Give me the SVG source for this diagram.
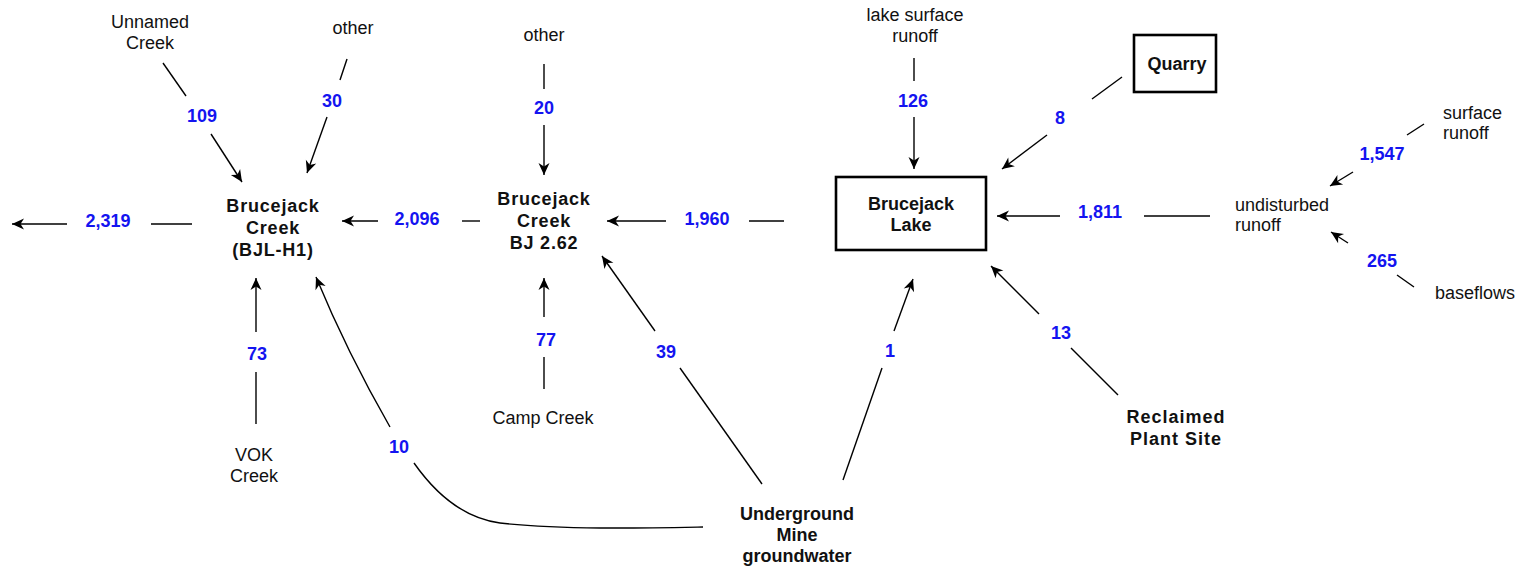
<svg xmlns="http://www.w3.org/2000/svg" width="1526" height="568" viewBox="0 0 1526 568">
<style>
text{font-family:"Liberation Sans",Arial,sans-serif;font-size:18px;fill:#111}
.n{font-weight:bold;fill:#1414f0;text-anchor:middle}
.b{font-weight:bold;text-anchor:middle}
.c{letter-spacing:0.8px}
.r{text-anchor:middle}
.l{text-anchor:start}
.ln{stroke:#000;stroke-width:1.4;fill:none}
.ar{stroke:#000;stroke-width:1.4;fill:none;marker-end:url(#ah)}
.box{fill:#fff;stroke:#000;stroke-width:2.6}
</style>
<defs>
<marker id="ah" viewBox="-13 -6 14 12" refX="0" refY="0" markerWidth="14" markerHeight="12" markerUnits="userSpaceOnUse" orient="auto">
<path d="M0,0 L-12,-5.5 L-8.5,0 L-12,5.5 Z" fill="#000"/>
</marker>
</defs>
<g id="connectors">
<line class="ln" x1="163" y1="63" x2="186" y2="96"/>
<line class="ar" x1="211" y1="134" x2="242" y2="182"/>
<line class="ln" x1="347" y1="59" x2="340" y2="80"/>
<line class="ar" x1="327" y1="117" x2="307" y2="173"/>
<line class="ar" x1="67" y1="224" x2="12" y2="224"/>
<line class="ln" x1="151" y1="224" x2="192" y2="224"/>
<line class="ar" x1="378" y1="221" x2="342" y2="221"/>
<line class="ln" x1="462" y1="221" x2="480" y2="221"/>
<line class="ln" x1="544" y1="64" x2="544" y2="89"/>
<line class="ar" x1="544" y1="125" x2="544" y2="175"/>
<line class="ar" x1="666" y1="221" x2="607" y2="221"/>
<line class="ln" x1="749" y1="221" x2="784" y2="221"/>
<line class="ln" x1="914" y1="58" x2="914" y2="81"/>
<line class="ar" x1="914" y1="117" x2="914" y2="169"/>
<line class="ln" x1="1122" y1="77" x2="1092" y2="99"/>
<line class="ar" x1="1047" y1="135" x2="1002" y2="169"/>
<line class="ar" x1="1060" y1="216" x2="997" y2="216"/>
<line class="ln" x1="1144" y1="216" x2="1210" y2="216"/>
<line class="ln" x1="1424" y1="124" x2="1407" y2="135"/>
<line class="ar" x1="1353" y1="172" x2="1330" y2="186"/>
<line class="ln" x1="1414" y1="287" x2="1397" y2="275"/>
<line class="ar" x1="1348" y1="243" x2="1331" y2="232"/>
<line class="ar" x1="256" y1="332" x2="256" y2="278"/>
<line class="ln" x1="256" y1="372" x2="256" y2="424"/>
<line class="ar" x1="544" y1="317" x2="544" y2="278"/>
<line class="ln" x1="544" y1="357" x2="544" y2="389"/>
<line class="ar" x1="655" y1="331" x2="602" y2="256"/>
<line class="ln" x1="680" y1="368" x2="762" y2="484"/>
<line class="ar" x1="894" y1="331" x2="913" y2="279"/>
<line class="ln" x1="882" y1="368" x2="843" y2="480"/>
<line class="ar" x1="1039" y1="314" x2="991" y2="266"/>
<line class="ln" x1="1071" y1="348" x2="1118" y2="395"/>
<path class="ln" d="M703,527 C650,528 560,530 500,523 C470,519 440,500 414,463"/>
<path class="ar" d="M390,427 Q347,352 316,277"/>
</g>
<g id="labels">
<text class="n" x="202" y="121.5">109</text>
<text class="n" x="332" y="106.5">30</text>
<text class="n" x="108" y="226.5">2,319</text>
<text class="n" x="417" y="224.5">2,096</text>
<text class="n" x="544" y="113.5">20</text>
<text class="n" x="707" y="224.5">1,960</text>
<text class="n" x="913" y="106.5">126</text>
<text class="n" x="1060" y="123.5">8</text>
<text class="n" x="1100" y="217.5">1,811</text>
<text class="n" x="1382" y="159.5">1,547</text>
<text class="n" x="1382" y="266.5">265</text>
<text class="n" x="257" y="359.5">73</text>
<text class="n" x="546" y="345.5">77</text>
<text class="n" x="666" y="357.5">39</text>
<text class="n" x="399" y="452.5">10</text>
<text class="n" x="890" y="356.5">1</text>
<text class="n" x="1061" y="338.5">13</text>
</g>
<g id="unnamed-creek"><text class="r" x="150" y="28">Unnamed</text><text class="r" x="150" y="49">Creek</text></g>
<g id="other-1"><text class="r" x="353" y="34">other</text></g>
<g id="other-2"><text class="r" x="544" y="41">other</text></g>
<g id="lake-surface-runoff"><text class="r" x="915" y="21">lake surface</text><text class="r" x="915" y="42">runoff</text></g>
<g id="quarry"><rect class="box" x="1134" y="35" width="82" height="57"/><text class="b" x="1177" y="70">Quarry</text></g>
<g id="surface-runoff"><text class="l" x="1443" y="119">surface</text><text class="l" x="1443" y="139">runoff</text></g>
<g id="undisturbed-runoff"><text class="l" x="1235" y="211">undisturbed</text><text class="l" x="1235" y="231">runoff</text></g>
<g id="baseflows"><text class="l" x="1435" y="299">baseflows</text></g>
<g id="bjl-h1"><text class="b c" x="273" y="212">Brucejack</text><text class="b c" x="273" y="234">Creek</text><text class="b c" x="273" y="256">(BJL-H1)</text></g>
<g id="bj-262"><text class="b c" x="544" y="205">Brucejack</text><text class="b c" x="544" y="227">Creek</text><text class="b c" x="544" y="249">BJ 2.62</text></g>
<g id="brucejack-lake"><rect class="box" x="836" y="177" width="150" height="73"/><text class="b" x="911" y="210">Brucejack</text><text class="b" x="911" y="231">Lake</text></g>
<g id="vok-creek"><text class="r" x="254" y="461">VOK</text><text class="r" x="254" y="482">Creek</text></g>
<g id="camp-creek"><text class="r" x="543" y="424">Camp Creek</text></g>
<g id="underground-mine"><text class="b" x="797" y="520">Underground</text><text class="b" x="797" y="541">Mine</text><text class="b" x="797" y="562">groundwater</text></g>
<g id="reclaimed-plant-site"><text class="b" x="1176" y="423" style="letter-spacing:1px">Reclaimed</text><text class="b" x="1176" y="445" style="letter-spacing:1px">Plant Site</text></g>
</svg>
